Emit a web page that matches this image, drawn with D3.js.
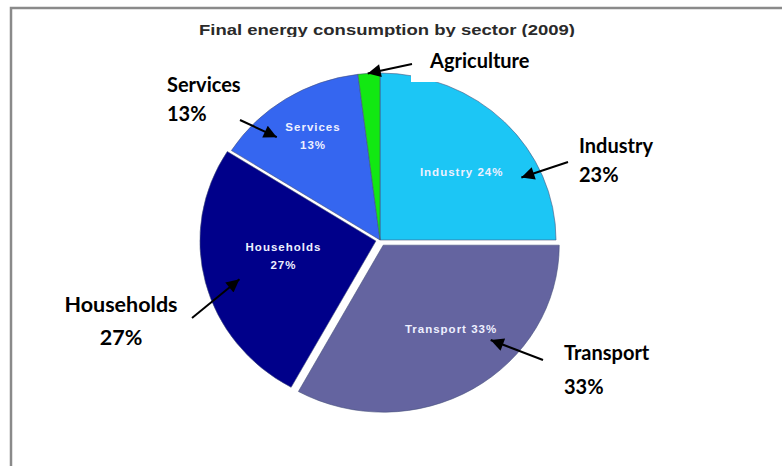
<!DOCTYPE html>
<html><head><meta charset="utf-8">
<script src="https://cdn.jsdelivr.net/npm/d3@7"></script>
<style>html,body{margin:0;padding:0;background:#fff;}svg{display:block;}</style>
</head><body>
<svg id="chart" width="782" height="466"></svg>
<script>
// ---- data ----
const sectors = ["Industry", "Transport", "Households", "Services", "Agriculture"];
const shares = [25, 33, 26, 14, 2];            // slice sizes
const innerLabels = ["Industry 24%", "Transport 33%", "Households|27%", "Services|13%", ""];
const outerNames = ["Industry", "Transport", "Households", "Services", "Agriculture"];
const outerPcts = ["23%", "33%", "27%", "13%", ""];
const colors = ["#1cc6f5", "#6464a0", "#00008a", "#3566f0", "#12e812"];
const titleText = "Final energy consumption by sector (2009)";

// ---- layout ----
const W = 782, H = 466;
const svg = d3.select("#chart");
const cx = 380, cy = 240, R = 167, sx = 1.054;
const explode = [0, 6, 4, 0, 0];
// inner label placement (polar, degrees clockwise from top)
const innerPos = [{ a: 48.8, r: 103 }, { a: 143, r: 112 }, { a: 260, r: 93 }, { a: 328.6, r: 122 }, null];

// frame
svg.append("path").attr("d", `M11,${H} L11,8 L${W},8`).attr("fill", "none")
  .attr("stroke", "#8a8a8a").attr("stroke-width", 2.5);

// title (clipped at bottom like the source)
svg.append("clipPath").attr("id", "tclip").append("rect").attr("x", 0).attr("y", 0).attr("width", W).attr("height", 37);
svg.append("text").attr("clip-path", "url(#tclip)")
  .attr("x", 387).attr("y", 35).attr("text-anchor", "middle")
  .attr("font-family", "Liberation Sans, Arial, sans-serif").attr("font-weight", "bold")
  .attr("font-size", 15).attr("fill", "#2a2a2a")
  .attr("textLength", 376).attr("lengthAdjust", "spacingAndGlyphs")
  .text(titleText);

// pie
const pie = d3.pie().sort(null).value(d => d)(shares);
const arc = d3.arc().innerRadius(0).outerRadius(R);

const g = svg.append("g").attr("transform", `translate(${cx},${cy}) scale(${sx},1)`);
const slices = g.selectAll("g.slice").data(pie).join("g").attr("class", "slice")
  .attr("transform", (d, i) => {
    const a = (d.startAngle + d.endAngle) / 2;
    return `translate(${Math.sin(a) * explode[i]},${-Math.cos(a) * explode[i]})`;
  });
slices.append("path").attr("d", arc)
  .attr("fill", (d, i) => colors[i])
  .attr("stroke", "#46507a").attr("stroke-width", 0.8).attr("stroke-opacity", 0.7);

// inner labels (unscaled text)
const lg = svg.append("g").attr("transform", `translate(${cx},${cy})`);
pie.forEach((d, i) => {
  if (!innerLabels[i]) return;
  const p = innerPos[i];
  const a = p.a * Math.PI / 180;
  const x = Math.sin(a) * p.r * sx, y = -Math.cos(a) * p.r;
  const lines = innerLabels[i].split("|");
  const t = lg.append("text").attr("text-anchor", "middle")
    .attr("font-family", "Liberation Sans, Arial, sans-serif").attr("font-weight", "bold")
    .attr("font-size", 11.5).attr("fill", "#eef0ff").attr("letter-spacing", 1);
  lines.forEach((ln, k) => {
    t.append("tspan").attr("x", x).attr("y", y + 4 + (k - (lines.length - 1) / 2) * 18.5).text(ln);
  });
});

// white patch behind the Agriculture callout
svg.append("rect").attr("x", 411).attr("y", 42).attr("width", 130).attr("height", 40).attr("fill", "#fff");

// callouts: arrow tip on the pie at (angle in degrees, radius), tail and text in page layout
const callouts = [
  { i: 0, tipA: 65, tipR: 148, from: [568, 162], tx: 579, ty: 153, anchor: "start", fs: 20 },
  { i: 1, tipA: 133.6, tipR: 145, from: [543, 360], tx: 564, ty: 360, anchor: "start", fs: 20 },
  { i: 2, tipA: 253.6, tipR: 139, from: [192, 318], tx: 121, ty: 312, anchor: "middle", fs: 21.5 },
  { i: 3, tipA: 316.4, tipR: 142, from: [240, 120], tx: 167, ty: 92, anchor: "start", fs: 20 },
  { i: 4, tipA: 356, tipR: 167, from: [412, 64], tx: 430, ty: 68, anchor: "start", fs: 20 }
];
const defs = svg.append("defs");
defs.append("marker").attr("id", "ah").attr("viewBox", "0 0 10 10").attr("refX", 10).attr("refY", 5)
  .attr("markerWidth", 16).attr("markerHeight", 13).attr("markerUnits", "userSpaceOnUse")
  .attr("orient", "auto").append("path").attr("d", "M0,0 L10,5 L0,10 Z").attr("fill", "#000");

callouts.forEach(c => {
  const a = c.tipA * Math.PI / 180;
  const tip = [cx + Math.sin(a) * c.tipR * sx, cy - Math.cos(a) * c.tipR];
  svg.append("line").attr("x1", c.from[0]).attr("y1", c.from[1]).attr("x2", tip[0]).attr("y2", tip[1])
    .attr("stroke", "#000").attr("stroke-width", 2).attr("marker-end", "url(#ah)");
  const t = svg.append("text").attr("text-anchor", c.anchor)
    .attr("font-family", "Lato, Carlito, Calibri, sans-serif").attr("font-weight", "bold")
    .attr("font-size", c.fs).attr("fill", "#000");
  t.append("tspan").attr("x", c.tx).attr("y", c.ty).text(outerNames[c.i]);
  if (outerPcts[c.i]) t.append("tspan").attr("x", c.tx).attr("y", c.ty + (c.i === 2 ? 33 : c.i === 1 ? 34 : 29)).text(outerPcts[c.i]);
});
</script>
</body></html>
